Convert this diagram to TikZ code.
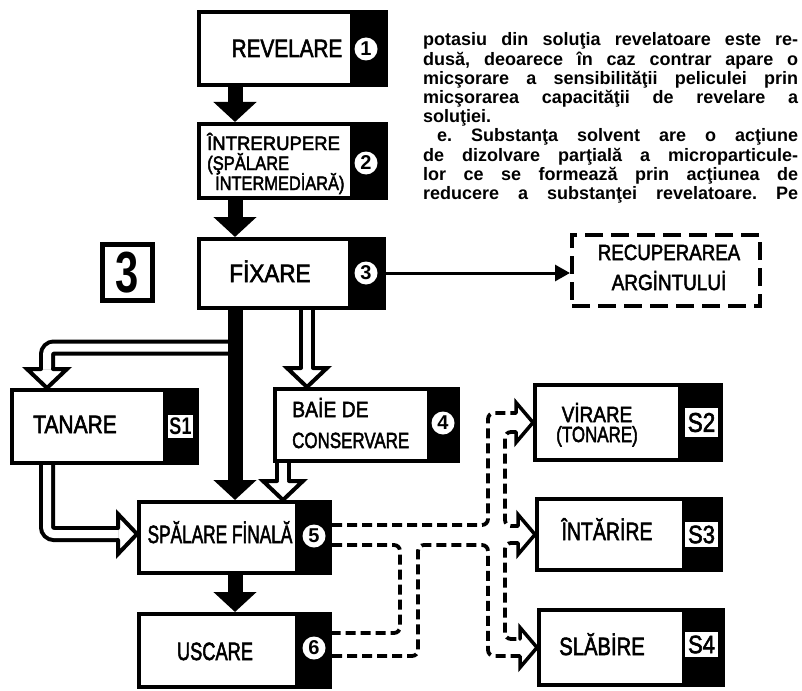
\documentclass[tikz,border=0pt]{standalone}
\usepackage{fontspec}
\setmainfont{Liberation Sans}
\newfontfamily\lblfont{Liberation Sans}[FakeBold=2.5]
\usepackage{graphicx}
\usetikzlibrary{arrows.meta,calc}
\frenchspacing
\newcommand\sx[2]{\scalebox{#1}[1]{#2}}
\newcommand\fs[1]{\lblfont\fontsize{#1}{#1}\selectfont}
\newcommand\procbox[6]{%
  \node[frame, minimum width={#4-#2-4}, minimum height={#5-#3-4}] (#1) at ({(#2+#4)/2},{(#3+#5)/2}) {};
  \fill (#6,#3) rectangle (#4,#5);}
\newcommand\hdown[1]{\draw[whd] ($#1+(-6,-19)$) -- ++(-14,0) -- #1 -- ++(20,-19) -- ++(-14,0);}
\newcommand\hright[1]{\draw[whd] ($#1+(-19,-6)$) -- ++(0,-14) -- #1 -- ++(-19,20) -- ++(0,-14);}
\begin{document}
\begin{tikzpicture}[x=1pt,y=-1pt,
  frame/.style={draw, line width=4pt, fill=white, inner sep=0pt},
  lab/.style={inner sep=0pt, anchor=base},
  labw/.style={inner sep=0pt, anchor=base west},
  numc/.style={circle, fill=white, inner sep=0pt, minimum size=23pt, font=\bfseries\fontsize{20}{20}\selectfont},
  slab/.style={fill=white, inner sep=0pt},
  blk/.style={line width=15pt, -{Triangle[length=20pt,width=42pt]}},
  wp/.style={draw=black, line width=4pt, double=white, double distance=8pt, rounded corners=7pt},
  whd/.style={line width=4pt, line join=miter, line cap=round},
  dl/.style={line width=3.8pt, dash pattern=on 10pt off 5pt, rounded corners=6pt},
  dh/.style={line width=3.5pt, line join=miter, line cap=round},
]
\fill[white] (0,0) rectangle (802,690);
\useasboundingbox (0,0) rectangle (802,690);

% boxes
\procbox{rev}{197}{10}{388}{87}{350}
\procbox{int}{197}{122}{388}{200}{350}
\procbox{fix}{197}{237}{386}{310}{348}
\procbox{tan}{10}{388}{199}{465}{163}
\procbox{baie}{273}{387}{460}{463}{427}
\procbox{spal}{137}{500}{332}{575}{295}
\procbox{usc}{137}{612}{332}{689}{295}
\procbox{vir}{533}{383}{723}{462}{678}
\procbox{int2}{535}{497}{723}{572}{682}
\procbox{sla}{537}{608}{725}{687}{682}

% labels
\node[lab, font=\fs{25}] (trev) at (287,57) {\sx{0.83}{REVELARE}};
\node[labw, font=\fs{19.5}] (tinta) at (207,150) {\sx{0.95}{ÎNTRERUPERE}};
\node[labw, font=\fs{19.5}] (tintb) at (207,170) {\sx{0.85}{(ŞPĂLARE}};
\node[labw, font=\fs{19.5}] (tintc) at (215,190) {\sx{0.84}{İNTERMEDİARĂ)}};
\node[lab, font=\fs{25}] (tfix) at (270,282) {\sx{0.9}{FİXARE}};
\node[lab, font=\fs{25}] (ttan) at (75,433) {\sx{0.84}{TANARE}};
\node[labw, font=\fs{22}] (tbaiea) at (292,417) {\sx{0.88}{BAİE DE}};
\node[labw, font=\fs{22}] (tbaieb) at (292,448) {\sx{0.77}{CONSERVARE}};
\node[lab, font=\fs{25}] (tspal) at (220,543) {\sx{0.69}{SPĂLARE FİNALĂ}};
\node[lab, font=\fs{25}] (tusc) at (215,660) {\sx{0.73}{USCARE}};
\node[lab, font=\fs{22}] (tvira) at (597,422) {\sx{0.86}{VİRARE}};
\node[lab, font=\fs{22}] (tvirb) at (597,442) {\sx{0.77}{(TONARE)}};
\node[lab, font=\fs{25}] (tintar) at (607,540) {\sx{0.78}{ÎNTĂRİRE}};
\node[lab, font=\fs{25}] (tsla) at (602,655) {\sx{0.81}{SLĂBİRE}};

% numbers
\node[numc] (c1) at (366,49) {1};
\node[numc] (c2) at (366,163) {2};
\node[numc] (c3) at (366,273) {3};
\node[numc] (c4) at (443,423) {4};
\node[numc] (c5) at (314,536) {5};
\node[numc] (c6) at (314,648) {6};
\node[slab, minimum width=25pt, minimum height=23pt, font=\bfseries\fontsize{24}{24}\selectfont] (s1) at (180.5,426.5) {\sx{0.75}{S1}};
\node[slab, minimum width=33pt, minimum height=29pt, font=\fs{27}] (s2) at (701.5,422.5) {\sx{0.83}{S2}};
\node[slab, minimum width=33pt, minimum height=25pt, font=\fs{25}] (s3) at (701.5,534.5) {\sx{0.88}{S3}};
\node[slab, minimum width=33pt, minimum height=25pt, font=\fs{25}] (s4) at (701.5,644.5) {\sx{0.88}{S4}};

% big 3
\node[draw, line width=5pt, minimum width=50pt, minimum height=56pt, inner sep=0pt, font=\bfseries\fontsize{58}{58}\selectfont] (big3) at (127.5,272.5) {\sx{0.72}{3}};

% recuperare box
\node[draw, line width=4pt, dash pattern=on 18pt off 8pt, minimum width=188pt, minimum height=71pt, inner sep=0pt] (recup) at (666,270.5) {};
\node[lab, font=\fs{22}] (treca) at (669,260) {\sx{0.85}{RECUPERAREA}};
\node[lab, font=\fs{22}] (trecb) at (669,290) {\sx{0.86}{ARGİNTULUİ}};

% paragraph
\node[anchor=base west, inner sep=0pt, font=\bfseries\fontsize{18}{19.2}\selectfont] (para) at (423,46) {\parbox[t]{375pt}{%
\makebox[375pt][s]{potasiu din soluţia revelatoare este re-}\par
\makebox[375pt][s]{dusă, deoarece în caz contrar apare o}\par
\makebox[375pt][s]{micşorare a sensibilităţii peliculei prin}\par
\makebox[375pt][s]{micşorarea capacităţii de revelare a}\par
soluţiei.\par
\makebox[375pt][s]{\hspace*{14pt}e.\ Substanţa solvent are o acţiune}\par
\makebox[375pt][s]{de dizolvare parţială a microparticule-}\par
\makebox[375pt][s]{lor ce se formează prin acţiunea de}\par
\makebox[375pt][s]{reducere a substanţei revelatoare.\ Pe}}};

% helper coordinates
\coordinate (ax) at (235,0);
\coordinate (tx) at (47,0);
\coordinate (bx) at (307,0);
\coordinate (sx) at (283,0);
\coordinate (sy) at (0,534);
\coordinate (br) at (230,347.5);

% outline (white) arrows
\draw[wp] (br) -| ($(tan.north -| tx)+(0,-19)$);
\hdown{(tan.north -| tx)}
\draw[wp] (fix.south -| bx) -- ($(baie.north -| bx)+(0,-19)$);
\hdown{(baie.north -| bx)}
\draw[wp] (baie.south -| sx) -- ($(spal.north -| sx)+(0,-20)$);
\hdown{(spal.north -| sx)}
\draw[wp] (tan.south -| tx) |- ($(spal.west |- sy)+(-19,0)$);
\hright{(spal.west |- sy)}

% black arrows
\draw[blk] (rev.south -| ax) -- (int.north -| ax);
\draw[blk] (int.south -| ax) -- (fix.north -| ax);
\draw[blk] (fix.south -| ax) -- (spal.north -| ax);
\draw[blk] (spal.south -| ax) -- (usc.north -| ax);

% to recuperare
\draw[line width=3pt, -{Triangle[length=15pt,width=16pt]}] (fix.east |- c3) -- (recup.west |- c3);

% dashed outline connectors
\draw[dl] ([yshift=12.5pt]spal.east) -- (488,525) -- (488,413) -- (516,413);
\draw[dh] (516,413) -- (516,402.5) -- (vir.west) -- (516,442.5) -- (516,432);
\draw[dl] (516,432) -- (505,432) -- (505,526) -- (518,526);
\draw[dh] (518,526) -- (518,514.5) -- (int2.west) -- (518,554.5) -- (518,543);
\draw[dl] (518,543) -- (505,543) -- (505,639) -- (520,639);
\draw[dh] (520,639) -- (520,627.5) -- (sla.west) -- (520,667.5) -- (520,656);
\draw[dl] ([yshift=-5.5pt]usc.east) -- (418,656) -- (418,545) -- (488,545) -- (488,656) -- (520,656);
\draw[dl] ([yshift=-7.5pt]spal.east) -- (400,545) -- (400,633) -- ([yshift=17.5pt]usc.east);
\end{tikzpicture}
\end{document}
